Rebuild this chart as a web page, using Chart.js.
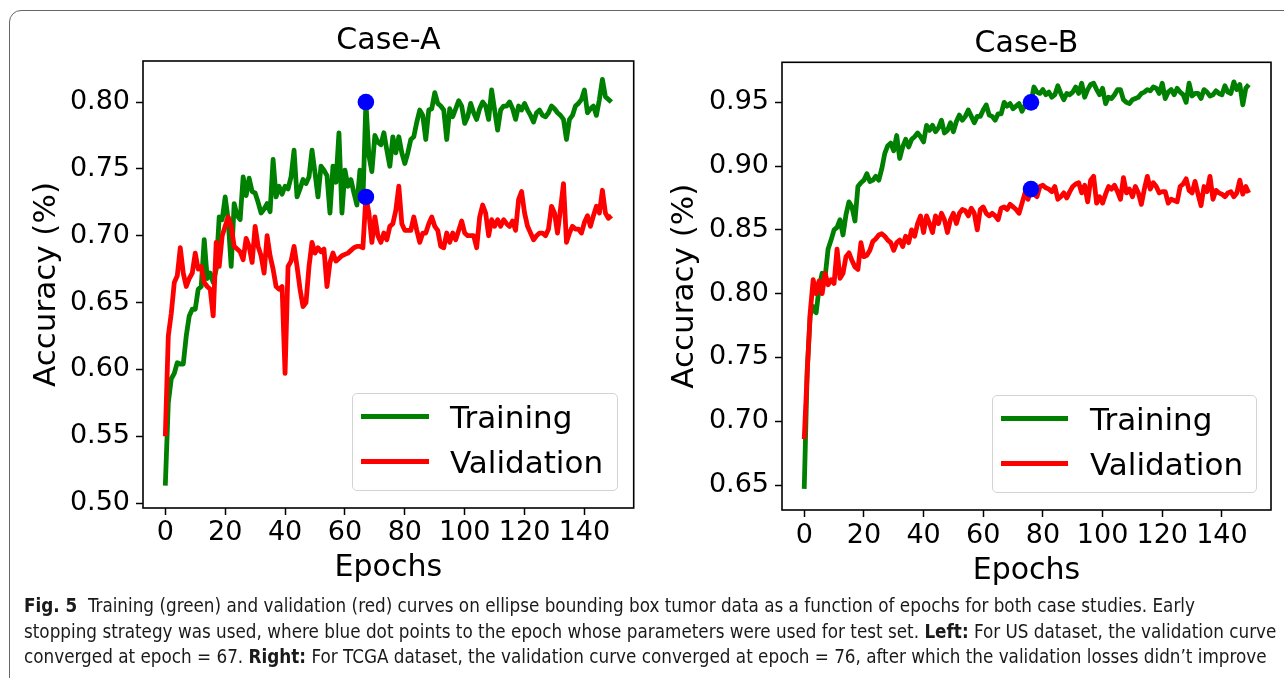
<!DOCTYPE html>
<html><head><meta charset="utf-8">
<script src="https://cdn.jsdelivr.net/npm/chart.js@4.4.0/dist/chart.umd.min.js"></script>
<style>
html,body{margin:0;padding:0;background:#fff;}
body{width:1284px;height:678px;position:relative;overflow:hidden;font-family:"DejaVu Sans",sans-serif;}
#frame{position:absolute;left:9px;top:10px;width:1310px;height:720px;border:1.5px solid #666;border-radius:12px;box-sizing:border-box;}
canvas{position:absolute;top:0;}
#cA{left:0;} #cB{left:640px;}
.leg{position:absolute;border:1px solid #d3d3d3;border-radius:5px;background:rgba(255,255,255,0.8);box-sizing:border-box;}
.sw{position:absolute;height:5px;}
.lt{position:absolute;font-family:"DejaVu Sans",sans-serif;font-size:31px;line-height:36px;white-space:nowrap;color:#000;}
#cap{position:absolute;left:24px;top:593px;font-family:"Liberation Sans Narrow","DejaVu Sans Condensed","Roboto",sans-serif;font-size:19px;line-height:25.5px;color:#1a1a1a;}
#cap .ln{white-space:nowrap;transform-origin:0 50%;width:max-content;}
</style></head>
<body>
<div id="frame"></div>
<canvas id="cA" width="642" height="590"></canvas>
<canvas id="cB" width="644" height="594"></canvas>

<div class="leg" style="left:352px;top:393px;width:266px;height:98px;"></div>
<div class="sw" style="left:361px;top:413.5px;width:68px;background:#008000;"></div>
<div class="lt" style="left:450px;top:399px;">Training</div>
<div class="sw" style="left:361px;top:458.5px;width:68px;background:#ff0000;"></div>
<div class="lt" style="left:450px;top:443.6px;">Validation</div>

<div class="leg" style="left:992px;top:395px;width:265px;height:98px;"></div>
<div class="sw" style="left:1001px;top:415.5px;width:67px;background:#008000;"></div>
<div class="lt" style="left:1090px;top:401px;">Training</div>
<div class="sw" style="left:1001px;top:460.5px;width:67px;background:#ff0000;"></div>
<div class="lt" style="left:1090px;top:446px;">Validation</div>

<div id="cap">
<div class="ln"><b>Fig. 5</b>&nbsp; Training (green) and validation (red) curves on ellipse bounding box tumor data as a function of epochs for both case studies. Early</div>
<div class="ln" id="ln2">stopping strategy was used, where blue dot points to the epoch whose parameters were used for test set. <b>Left:</b> For US dataset, the validation curve</div>
<div class="ln">converged at epoch = 67. <b>Right:</b> For TCGA dataset, the validation curve converged at epoch = 76, after which the validation losses didn’t improve</div>
</div>

<script>
// ---------- DATA ----------
const epochs = Array.from({length:150}, (_, i) => i);
const xTicks = [0,20,40,60,80,100,120,140];
const yTicksA = [0.50,0.55,0.60,0.65,0.70,0.75,0.80];
const yTicksB = [0.65,0.70,0.75,0.80,0.85,0.90,0.95];

const trainA = [
0.513,0.575,0.593,0.597,0.605,0.604,0.604,0.625,0.640,0.645,
0.645,0.660,0.662,0.697,0.668,0.672,0.665,0.675,0.714,0.712,
0.729,0.712,0.677,0.724,0.715,0.712,0.744,0.730,0.743,0.733,
0.732,0.725,0.717,0.720,0.724,0.718,0.757,0.729,0.737,0.731,
0.737,0.735,0.744,0.764,0.729,0.735,0.742,0.739,0.744,0.764,
0.747,0.729,0.752,0.749,0.745,0.717,0.752,0.740,0.777,0.717,
0.749,0.737,0.742,0.732,0.723,0.749,0.726,0.800,0.760,0.748,
0.775,0.770,0.768,0.777,0.764,0.752,0.774,0.762,0.774,0.762,
0.754,0.762,0.772,0.774,0.785,0.794,0.790,0.772,0.794,0.795,
0.807,0.799,0.797,0.794,0.772,0.795,0.789,0.795,0.801,0.797,
0.784,0.789,0.799,0.792,0.787,0.795,0.800,0.797,0.787,0.809,
0.794,0.779,0.794,0.797,0.797,0.800,0.795,0.787,0.797,0.794,
0.799,0.794,0.790,0.785,0.792,0.794,0.790,0.789,0.792,0.797,
0.795,0.792,0.790,0.787,0.772,0.787,0.790,0.797,0.799,0.802,
0.809,0.792,0.795,0.797,0.790,0.802,0.817,0.804,0.802,0.800];

const valA = [
0.550,0.625,0.642,0.665,0.670,0.691,0.672,0.662,0.668,0.672,
0.687,0.675,0.677,0.665,0.662,0.660,0.640,0.695,0.677,0.700,
0.707,0.714,0.707,0.692,0.690,0.688,0.682,0.698,0.692,0.680,
0.707,0.692,0.685,0.672,0.700,0.685,0.675,0.662,0.660,0.662,
0.597,0.677,0.681,0.692,0.677,0.660,0.647,0.650,0.677,0.695,
0.687,0.691,0.688,0.690,0.662,0.680,0.687,0.681,0.683,0.685,
0.686,0.687,0.689,0.691,0.692,0.692,0.691,0.729,0.717,0.695,
0.714,0.700,0.695,0.702,0.697,0.707,0.709,0.719,0.737,0.709,
0.704,0.704,0.704,0.714,0.704,0.695,0.702,0.702,0.709,0.714,
0.707,0.704,0.692,0.691,0.702,0.695,0.702,0.697,0.704,0.711,
0.702,0.700,0.700,0.700,0.691,0.714,0.723,0.717,0.700,0.712,
0.707,0.712,0.707,0.712,0.709,0.707,0.711,0.704,0.727,0.733,
0.717,0.707,0.702,0.697,0.700,0.702,0.702,0.700,0.705,0.722,
0.717,0.702,0.720,0.739,0.695,0.702,0.707,0.705,0.705,0.702,
0.710,0.715,0.707,0.715,0.722,0.717,0.734,0.717,0.713,0.715];

const trainB = [
0.647,0.740,0.783,0.790,0.785,0.805,0.816,0.813,0.835,0.842,
0.850,0.852,0.858,0.846,0.862,0.872,0.868,0.857,0.884,0.887,
0.889,0.894,0.888,0.889,0.892,0.889,0.898,0.910,0.916,0.918,
0.912,0.924,0.906,0.915,0.921,0.915,0.921,0.923,0.926,0.923,
0.919,0.932,0.928,0.932,0.927,0.930,0.936,0.926,0.928,0.934,
0.927,0.935,0.940,0.936,0.939,0.944,0.939,0.934,0.939,0.939,
0.944,0.948,0.940,0.939,0.936,0.941,0.941,0.950,0.947,0.949,
0.945,0.947,0.949,0.943,0.948,0.949,0.950,0.962,0.958,0.957,
0.960,0.956,0.958,0.954,0.956,0.963,0.957,0.952,0.957,0.956,
0.958,0.962,0.957,0.965,0.954,0.960,0.964,0.965,0.960,0.956,
0.961,0.949,0.954,0.953,0.956,0.960,0.960,0.952,0.950,0.949,
0.952,0.953,0.954,0.957,0.958,0.960,0.959,0.962,0.961,0.957,
0.965,0.953,0.958,0.960,0.956,0.961,0.958,0.956,0.950,0.965,
0.955,0.957,0.957,0.953,0.960,0.958,0.955,0.956,0.959,0.957,
0.956,0.963,0.958,0.957,0.966,0.960,0.964,0.948,0.961,0.964];

const valB = [
0.686,0.738,0.785,0.811,0.800,0.810,0.800,0.816,0.807,0.811,
0.808,0.835,0.812,0.816,0.829,0.832,0.826,0.821,0.819,0.840,
0.829,0.830,0.834,0.841,0.843,0.846,0.847,0.845,0.842,0.840,
0.834,0.840,0.842,0.837,0.845,0.840,0.850,0.845,0.855,0.861,
0.848,0.861,0.855,0.848,0.861,0.855,0.863,0.858,0.848,0.858,
0.863,0.855,0.863,0.866,0.865,0.861,0.867,0.863,0.850,0.866,
0.868,0.863,0.861,0.863,0.861,0.858,0.867,0.868,0.866,0.870,
0.868,0.866,0.863,0.871,0.879,0.874,0.882,0.878,0.876,0.884,
0.885,0.883,0.882,0.880,0.884,0.874,0.876,0.879,0.875,0.880,
0.884,0.886,0.887,0.879,0.885,0.872,0.889,0.892,0.871,0.876,
0.871,0.878,0.884,0.882,0.885,0.880,0.874,0.891,0.879,0.882,
0.876,0.884,0.879,0.870,0.882,0.892,0.882,0.887,0.884,0.879,
0.880,0.880,0.871,0.874,0.873,0.872,0.884,0.886,0.890,0.881,
0.879,0.888,0.878,0.869,0.884,0.880,0.892,0.874,0.881,0.879,
0.878,0.876,0.879,0.880,0.876,0.879,0.889,0.878,0.884,0.879];

const bestEpochA = 67;
const bestEpochB = 76;

// ---------- CHARTS ----------
const framePlugin = {
  id: 'frame',
  afterDraw(chart) {
    const {ctx, chartArea: a} = chart;
    ctx.save();
    ctx.strokeStyle = '#000';
    ctx.lineWidth = 1.6;
    ctx.strokeRect(a.left, a.top, a.right - a.left, a.bottom - a.top);
    ctx.restore();
  }
};

const FONT = 'DejaVu Sans';

function makeChart(id, c) {
  const pts = arr => c.x.map((e, i) => ({x: e, y: arr[i]}));
  const best = [
    {x: c.best, y: c.train[c.best]},
    {x: c.best, y: c.val[c.best]}
  ];
  return new Chart(document.getElementById(id), {
    type: 'line',
    data: {
      datasets: [
        {label: 'Best', type: 'scatter', data: best, showLine: false, pointRadius: 8.3,
         pointBackgroundColor: '#0000ff', pointBorderWidth: 0, order: 1},
        {label: 'Validation', data: pts(c.val), borderColor: '#ff0000', borderWidth: 4.8,
         pointRadius: 0, tension: 0, borderJoinStyle: 'round', fill: false, order: 2},
        {label: 'Training', data: pts(c.train), borderColor: '#008000', borderWidth: 4.8,
         pointRadius: 0, tension: 0, borderJoinStyle: 'round', fill: false, order: 3}
      ]
    },
    options: {
      responsive: false, animation: false, devicePixelRatio: 1,
      events: [],
      layout: {padding: {left: 0, top: 0, right: c.padRight, bottom: c.padBottom}},
      plugins: {
        legend: {display: false},
        tooltip: {enabled: false},
        title: {display: true, fullSize: false, text: c.title, color: '#000',
                font: {family: FONT, size: 30, weight: 'normal', lineHeight: 1.2},
                padding: {top: c.titleTop, bottom: c.titleBottom}}
      },
      scales: {
        x: {
          type: 'linear', min: -7.45, max: 156.45,
          afterBuildTicks: s => { s.ticks = xTicks.map(v => ({value: v})); },
          afterFit: s => { s.height = c.xH; },
          grid: {display: true, drawOnChartArea: false, drawTicks: true, tickLength: 7,
                 tickWidth: 1.5, tickColor: '#000', color: '#000'},
          border: {display: false},
          ticks: {font: {family: FONT, size: 27}, color: '#000', padding: c.xTickPad,
                  maxRotation: 0, minRotation: 0, autoSkip: false, callback: v => String(v)},
          title: {display: true, text: 'Epochs', color: '#000',
                  font: {family: FONT, size: 30, lineHeight: 1.2}, padding: {top: 0, bottom: 0}}
        },
        y: {
          type: 'linear', min: c.yMin, max: c.yMax,
          afterBuildTicks: s => { s.ticks = c.yTicks.map(v => ({value: v})); },
          afterFit: s => { s.width = c.yW; },
          grid: {display: true, drawOnChartArea: false, drawTicks: true, tickLength: 7,
                 tickWidth: 1.5, tickColor: '#000', color: '#000'},
          border: {display: false},
          ticks: {font: {family: FONT, size: 27}, color: '#000', padding: 6,
                  autoSkip: false, callback: v => v.toFixed(2)},
          title: {display: true, text: 'Accuracy (%)', color: '#000',
                  font: {family: FONT, size: 31, lineHeight: 1.2}, padding: {top: c.yTitlePad, bottom: 0}}
        }
      }
    },
    plugins: [framePlugin]
  });
}

makeChart('cA', {
  title: 'Case-A', x: epochs, train: trainA, val: valA, best: bestEpochA,
  yMin: 0.4963, yMax: 0.8307, yTicks: yTicksA,
  padRight: 6.5, padBottom: 4, titleTop: 23.5, titleBottom: 1.5,
  xH: 78, yW: 143, xTickPad: 2, yTitlePad: 28
});
makeChart('cB', {
  title: 'Case-B', x: epochs, train: trainB, val: valB, best: bestEpochB,
  yMin: 0.6304, yMax: 0.9814, yTicks: yTicksB,
  padRight: 13, padBottom: 5, titleTop: 26.3, titleBottom: 0,
  xH: 79, yW: 142, xTickPad: 3, yTitlePad: 26
});

// caption: fit line width to reference (offsetWidth ignores transforms)
function fitCaption() {
  const l2 = document.getElementById('ln2');
  const w = l2.offsetWidth;
  if (!w) return;
  const s = 1252 / w;
  document.querySelectorAll('#cap .ln').forEach(el => { el.style.transform = 'scaleX(' + s + ')'; });
}
fitCaption();
if (document.fonts && document.fonts.ready) document.fonts.ready.then(fitCaption);
</script>
</body></html>
